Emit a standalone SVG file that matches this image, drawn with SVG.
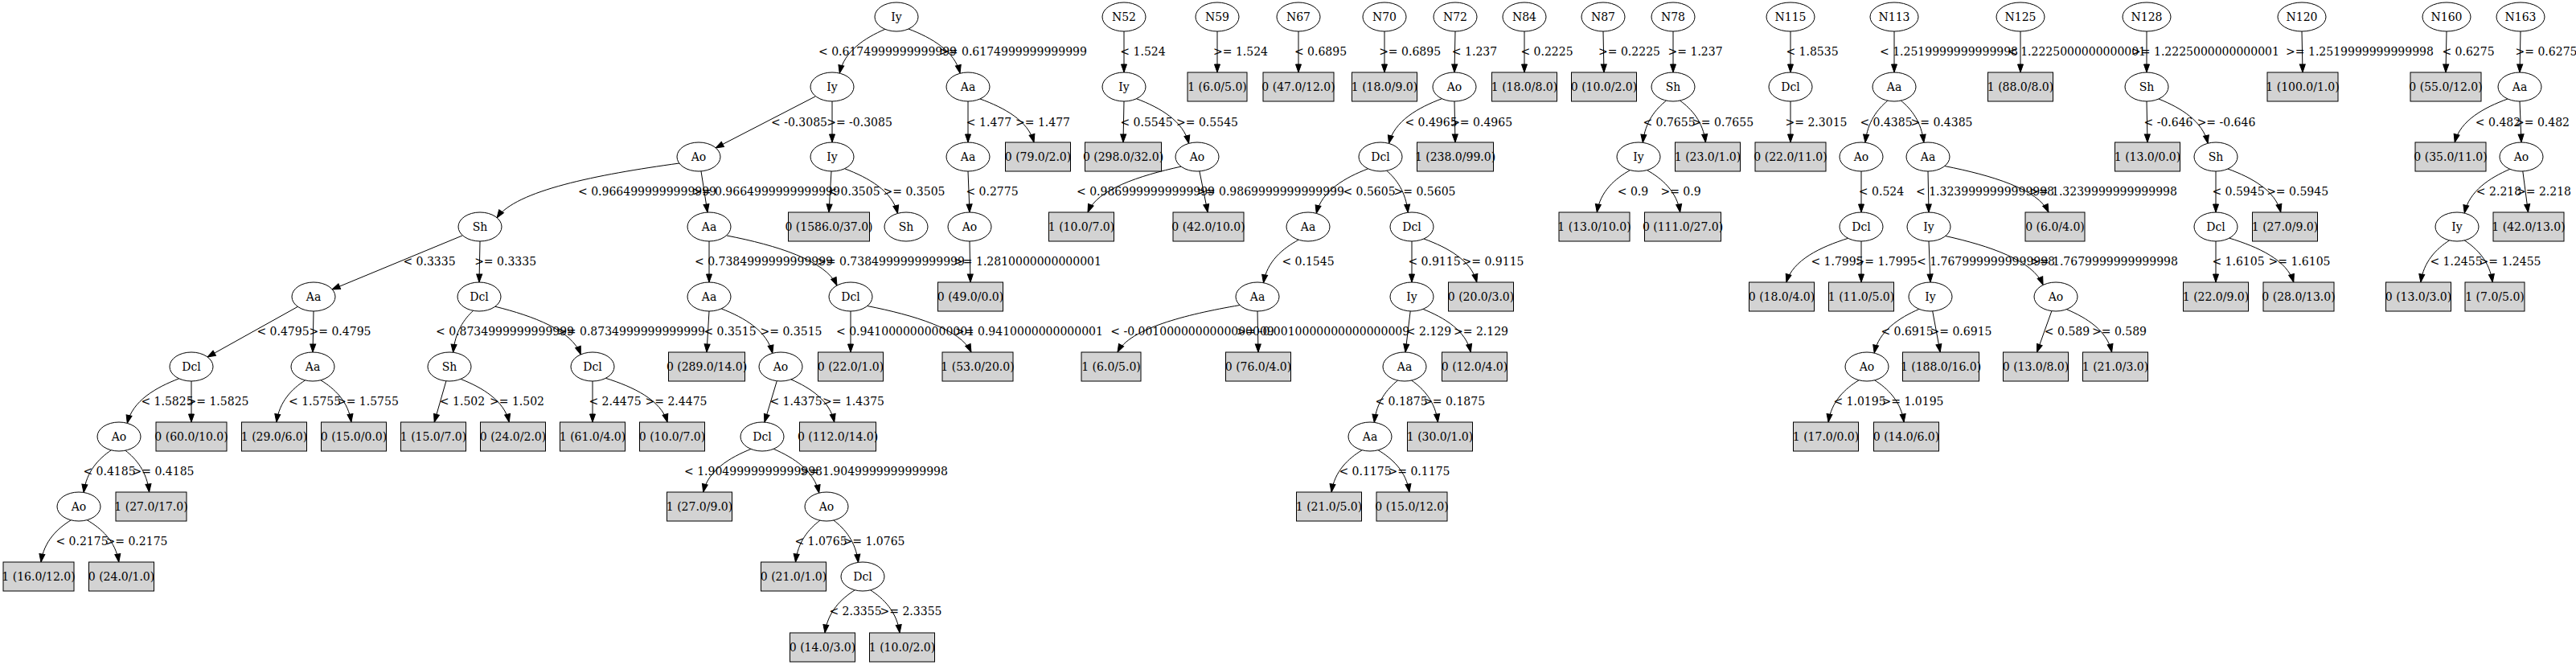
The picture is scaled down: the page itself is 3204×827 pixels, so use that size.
<svg xmlns="http://www.w3.org/2000/svg" width="3204" height="827" viewBox="0 0 3204 827">
<defs>
<style>
text{font-family:"DejaVu Serif","Liberation Serif",serif;font-size:14px;text-anchor:middle;fill:#000}
ellipse{fill:#fff;stroke:#000;stroke-width:1}
rect.leaf{fill:#d3d3d3;stroke:#000;stroke-width:1}
#edges path{fill:none;stroke:#000;stroke-width:1;marker-end:url(#arr)}
</style>
<marker id="arr" markerUnits="userSpaceOnUse" markerWidth="12" markerHeight="9" refX="10" refY="3.5" orient="auto" overflow="visible"><path d="M0,0 L10,3.5 L0,7 Z" fill="#000" stroke="#000" stroke-width="1"/></marker>
</defs>
<rect width="3204" height="827" fill="#fff"/>
<g id="edges">
<path d="M1100.9,36.3 C1075.4,47.3 1050,63.7 1044.3,91.1"/>
<path d="M1130,36 C1159,47 1188,64 1194,91"/>
<path d="M1014,120 L890,184"/>
<path d="M1035,126 L1035,177"/>
<path d="M1204,126 L1204,177"/>
<path d="M1219,123 C1249,134 1279,150 1286,177"/>
<path d="M845,203 C743,217 641,237 618,271"/>
<path d="M872,213 L880,264"/>
<path d="M1034,213 L1031,264"/>
<path d="M1050.5,209.7 C1080,221 1110,237.5 1116.5,265.4"/>
<path d="M1204,213 L1206,264"/>
<path d="M575,293 L413,360"/>
<path d="M597,300 L596,351"/>
<path d="M882,300 L882,351"/>
<path d="M904,293 C966,305 1027,324 1041,355"/>
<path d="M1206,300 L1207,351"/>
<path d="M371,381 L258,444"/>
<path d="M390,387 L389,438"/>
<path d="M588.6,386.3 C577.4,396.7 566.1,412.3 563.6,438.3"/>
<path d="M615.8,381.2 C663.7,393.1 711.6,411 722.3,440.9"/>
<path d="M882,387 L879,438"/>
<path d="M897.2,383.9 C925.8,395 954.4,411.6 960.8,439.4"/>
<path d="M1058,387 L1058,438"/>
<path d="M1078.8,380.5 C1136.9,392 1195.1,409.3 1208,438"/>
<path d="M222.7,470.8 C193.7,481.9 164.7,498.6 158.3,526.4"/>
<path d="M238,474 L238,525"/>
<path d="M379.6,472.9 C363.5,483.3 347.5,499 343.9,525"/>
<path d="M398.9,472.8 C416,483.2 433.1,498.9 436.9,525"/>
<path d="M554.9,473.8 L540.2,525"/>
<path d="M573,471.4 C600.1,482.1 627.3,498.2 633.3,525"/>
<path d="M737,474 L737,525"/>
<path d="M753.3,470.3 C787.9,481.2 822.4,497.6 830.1,525"/>
<path d="M966.3,473.7 L950.9,525.1"/>
<path d="M983.9,471.9 C1008.1,482.5 1032.3,498.4 1037.7,525"/>
<path d="M138.3,559.8 C122.9,570.3 107.5,586.1 104.1,612.5"/>
<path d="M155.9,560.2 C169.3,570.6 182.6,586.1 185.6,612"/>
<path d="M88.3,646.8 C71.5,657.2 54.7,672.9 51,699"/>
<path d="M108.2,646.7 C126,657.2 143.8,672.8 147.8,699"/>
<path d="M934.1,558.4 C907.4,569.1 880.6,585.2 874.7,612"/>
<path d="M962.1,558.3 C987.6,569.3 1013,585.7 1018.7,613.1"/>
<path d="M1019.9,647.2 C1006.2,657.6 992.5,673.1 989.5,699"/>
<path d="M1036.8,647 C1050.6,657.5 1064.4,673.2 1067.5,699.4"/>
<path d="M1063.3,733.8 C1046.5,744.4 1029.7,760.4 1026,787"/>
<path d="M1082.6,733.8 C1099,744.4 1115.4,760.4 1119.1,787"/>
<path d="M1398,39 L1398,90"/>
<path d="M1398,126 L1397,177"/>
<path d="M1413.4,122.7 C1442.7,133.8 1472.1,150.5 1478.6,178.4"/>
<path d="M1469,207.1 C1416.8,218.5 1364.6,235.5 1353,264"/>
<path d="M1491.9,212.9 L1502.2,264"/>
<path d="M1514,39 L1514,90"/>
<path d="M1615,39 L1615,90"/>
<path d="M1722,39 L1722,90"/>
<path d="M1810,39 L1809,90"/>
<path d="M1793.5,122.7 C1763.8,133.8 1734.1,150.5 1727.5,178.4"/>
<path d="M1809,126 L1810,177"/>
<path d="M1701.7,209.8 C1672.7,220.9 1643.7,237.6 1637.3,265.4"/>
<path d="M1724.7,212.2 C1736.6,222.6 1748.6,238.3 1751.2,264.3"/>
<path d="M1615.3,298.2 C1595.6,308.9 1575.9,325 1571.5,351.7"/>
<path d="M1756,300 L1756,351"/>
<path d="M1770.9,297 C1800.6,307.8 1830.2,324 1836.8,351"/>
<path d="M1542.1,379.5 C1473.7,391.2 1405.2,408.8 1390,438"/>
<path d="M1564,387 L1565,438"/>
<path d="M1754.2,386.9 L1748,438"/>
<path d="M1769.9,384.4 C1796.6,395.1 1823.4,411.2 1829.3,438"/>
<path d="M1738.5,473.1 C1725.4,483.6 1712.2,499.2 1709.3,525.4"/>
<path d="M1755.6,473 C1770.4,483.4 1785.1,499 1788.4,525"/>
<path d="M1694.1,559.8 C1677,570.2 1659.9,585.9 1656.1,612"/>
<path d="M1714,559.7 C1731.5,570.2 1749,585.8 1752.9,612"/>
<path d="M1896,39 L1896,90"/>
<path d="M1994,39 L1995,90"/>
<path d="M2081,39 L2081,90"/>
<path d="M2072.5,125.1 C2059.4,135.6 2046.2,151.2 2043.3,177.4"/>
<path d="M2089.5,125.1 C2103.9,135.5 2118.2,151 2121.4,177"/>
<path d="M2027.5,211.6 C2009,222.1 1990.4,237.8 1986.3,264"/>
<path d="M2048.5,211.6 C2067,222.1 2085.6,237.8 2089.7,264"/>
<path d="M2227,39 L2227,90"/>
<path d="M2227,126 L2227,177"/>
<path d="M2356,39 L2356,90"/>
<path d="M2347.9,125.2 C2335.3,135.6 2322.8,151.3 2320,177.3"/>
<path d="M2364.3,125.1 C2377.1,135.5 2389.9,151.2 2392.8,177.3"/>
<path d="M2315,213 L2315,264"/>
<path d="M2398,213 L2399,264"/>
<path d="M2418.8,206.5 C2476.9,218 2535.1,235.3 2548,264"/>
<path d="M2298.7,296.3 C2264.1,307.2 2229.6,323.6 2221.9,351"/>
<path d="M2315,300 L2315,351"/>
<path d="M2399,300 L2401,351"/>
<path d="M2419.8,293.5 C2474.4,305.7 2529,323.9 2541.1,354.4"/>
<path d="M2387,384.4 C2361.9,395.3 2336.8,411.7 2331.2,439.1"/>
<path d="M2403.7,386.9 L2413.2,438"/>
<path d="M2551.9,386.7 L2533.5,438"/>
<path d="M2570.4,384.7 C2595.7,395.4 2621,411.3 2626.6,438"/>
<path d="M2312.1,472.8 C2295,483.2 2277.9,498.9 2274.1,525"/>
<path d="M2331.6,472.8 C2348,483.2 2364.4,498.9 2368.1,525"/>
<path d="M2513,39 L2513,90"/>
<path d="M2670,39 L2670,90"/>
<path d="M2670,126 L2671,177"/>
<path d="M2684.9,123 C2712.4,134.1 2740,150.6 2746.1,178.3"/>
<path d="M2756,213 L2756,264"/>
<path d="M2770.9,210 C2800.6,220.8 2830.2,237 2836.8,264"/>
<path d="M2756,300 L2756,351"/>
<path d="M2772.7,296.1 C2808.7,307.1 2844.8,323.5 2852.8,351"/>
<path d="M2863,39 L2864,90"/>
<path d="M3043,39 L3042,90"/>
<path d="M3135,39 L3134,90"/>
<path d="M3119.1,123 C3089.4,133.8 3059.8,150 3053.2,177"/>
<path d="M3134,126 L3136,177"/>
<path d="M3121.9,210.3 C3096.4,221.3 3071,237.7 3065.3,265.1"/>
<path d="M3137.8,212.9 L3144.5,264"/>
<path d="M3046.6,298.9 C3030.5,309.3 3014.5,325 3010.9,351"/>
<path d="M3065.2,298.9 C3081,309.3 3096.7,325 3100.2,351"/>
<g id="edge-labels">
<text x="1104" y="69">&lt; 0.6174999999999999</text>
<text x="1260" y="69">&gt;= 0.6174999999999999</text>
<text x="1421.5" y="69">&lt; 1.524</text>
<text x="1543" y="69">&gt;= 1.524</text>
<text x="1642.5" y="69">&lt; 0.6895</text>
<text x="1753.6" y="69">&gt;= 0.6895</text>
<text x="1834" y="69">&lt; 1.237</text>
<text x="1924" y="69">&lt; 0.2225</text>
<text x="2026.5" y="69">&gt;= 0.2225</text>
<text x="2108.6" y="69">&gt;= 1.237</text>
<text x="2254" y="69">&lt; 1.8535</text>
<text x="2424" y="69">&lt; 1.2519999999999998</text>
<text x="2583" y="69">&lt; 1.2225000000000001</text>
<text x="2743" y="69">&gt;= 1.2225000000000001</text>
<text x="2935" y="69">&gt;= 1.2519999999999998</text>
<text x="3070" y="69">&lt; 0.6275</text>
<text x="3167" y="69">&gt;= 0.6275</text>
<text x="994" y="157">&lt; -0.3085</text>
<text x="1069" y="157">&gt;= -0.3085</text>
<text x="1230" y="157">&lt; 1.477</text>
<text x="1297" y="157">&gt;= 1.477</text>
<text x="1426" y="157">&lt; 0.5545</text>
<text x="1501.5" y="157">&gt;= 0.5545</text>
<text x="1780" y="157">&lt; 0.4965</text>
<text x="1842.6" y="157">&gt;= 0.4965</text>
<text x="2076" y="157">&lt; 0.7655</text>
<text x="2142.6" y="157">&gt;= 0.7655</text>
<text x="2259" y="157">&gt;= 2.3015</text>
<text x="2346" y="157">&lt; 0.4385</text>
<text x="2415" y="157">&gt;= 0.4385</text>
<text x="2697" y="157">&lt; -0.646</text>
<text x="2769" y="157">&gt;= -0.646</text>
<text x="3107" y="157">&lt; 0.482</text>
<text x="3162" y="157">&gt;= 0.482</text>
<text x="805" y="243">&lt; 0.9664999999999999</text>
<text x="953" y="243">&gt;= 0.9664999999999999</text>
<text x="1062" y="243">&lt; 0.3505</text>
<text x="1137" y="243">&gt;= 0.3505</text>
<text x="1234" y="243">&lt; 0.2775</text>
<text x="1425" y="243">&lt; 0.9869999999999999</text>
<text x="1580" y="243">&gt;= 0.9869999999999999</text>
<text x="1703" y="243">&lt; 0.5605</text>
<text x="1772" y="243">&gt;= 0.5605</text>
<text x="2031" y="243">&lt; 0.9</text>
<text x="2090.5" y="243">&gt;= 0.9</text>
<text x="2340" y="243">&lt; 0.524</text>
<text x="2469" y="243">&lt; 1.3239999999999998</text>
<text x="2616" y="243">&gt;= 1.3239999999999998</text>
<text x="2784" y="243">&lt; 0.5945</text>
<text x="2857.6" y="243">&gt;= 0.5945</text>
<text x="3108" y="243">&lt; 2.218</text>
<text x="3164" y="243">&gt;= 2.218</text>
<text x="534" y="330">&lt; 0.3335</text>
<text x="628.6" y="330">&gt;= 0.3335</text>
<text x="950" y="330">&lt; 0.7384999999999999</text>
<text x="1108" y="330">&gt;= 0.7384999999999999</text>
<text x="1278" y="330">&gt;= 1.2810000000000001</text>
<text x="1627" y="330">&lt; 0.1545</text>
<text x="1784" y="330">&lt; 0.9115</text>
<text x="1857" y="330">&gt;= 0.9115</text>
<text x="2285" y="330">&lt; 1.7995</text>
<text x="2346" y="330">&gt;= 1.7995</text>
<text x="2470" y="330">&lt; 1.7679999999999998</text>
<text x="2617" y="330">&gt;= 1.7679999999999998</text>
<text x="2784" y="330">&lt; 1.6105</text>
<text x="2860" y="330">&gt;= 1.6105</text>
<text x="3055" y="330">&lt; 1.2455</text>
<text x="3122" y="330">&gt;= 1.2455</text>
<text x="352" y="417">&lt; 0.4795</text>
<text x="423" y="417">&gt;= 0.4795</text>
<text x="628" y="417">&lt; 0.8734999999999999</text>
<text x="785" y="417">&gt;= 0.8734999999999999</text>
<text x="908" y="417">&lt; 0.3515</text>
<text x="984" y="417">&gt;= 0.3515</text>
<text x="1126" y="417">&lt; 0.9410000000000001</text>
<text x="1280" y="417">&gt;= 0.9410000000000001</text>
<text x="1483" y="417">&lt; -0.0010000000000000009</text>
<text x="1645.5" y="417">&gt;= -0.0010000000000000009</text>
<text x="1777" y="417">&lt; 2.129</text>
<text x="1842" y="417">&gt;= 2.129</text>
<text x="2372" y="417">&lt; 0.6915</text>
<text x="2439" y="417">&gt;= 0.6915</text>
<text x="2571" y="417">&lt; 0.589</text>
<text x="2636" y="417">&gt;= 0.589</text>
<text x="208" y="504">&lt; 1.5825</text>
<text x="271" y="504">&gt;= 1.5825</text>
<text x="391.6" y="504">&lt; 1.5755</text>
<text x="457.4" y="504">&gt;= 1.5755</text>
<text x="575" y="504">&lt; 1.502</text>
<text x="643" y="504">&gt;= 1.502</text>
<text x="765" y="504">&lt; 2.4475</text>
<text x="841" y="504">&gt;= 2.4475</text>
<text x="990" y="504">&lt; 1.4375</text>
<text x="1061.5" y="504">&gt;= 1.4375</text>
<text x="1743" y="504">&lt; 0.1875</text>
<text x="1808.6" y="504">&gt;= 0.1875</text>
<text x="2313" y="504">&lt; 1.0195</text>
<text x="2379" y="504">&gt;= 1.0195</text>
<text x="136" y="591">&lt; 0.4185</text>
<text x="203" y="591">&gt;= 0.4185</text>
<text x="937" y="591">&lt; 1.9049999999999998</text>
<text x="1087" y="591">&gt;= 1.9049999999999998</text>
<text x="1698" y="591">&lt; 0.1175</text>
<text x="1765" y="591">&gt;= 0.1175</text>
<text x="102" y="678">&lt; 0.2175</text>
<text x="170" y="678">&gt;= 0.2175</text>
<text x="1021" y="678">&lt; 1.0765</text>
<text x="1087" y="678">&gt;= 1.0765</text>
<text x="1064" y="765">&lt; 2.3355</text>
<text x="1133" y="765">&gt;= 2.3355</text>
</g>
</g>
<g id="m1"><ellipse cx="1115" cy="21" rx="27" ry="18"/><text x="1115" y="26">Iy</text></g>
<g id="m2"><ellipse cx="1035" cy="108" rx="27" ry="18"/><text x="1035" y="113">Iy</text></g>
<g id="m3"><ellipse cx="1204" cy="108" rx="27" ry="18"/><text x="1204" y="113">Aa</text></g>
<g id="m4"><ellipse cx="869" cy="195" rx="27" ry="18"/><text x="869" y="200">Ao</text></g>
<g id="m5"><ellipse cx="1035" cy="195" rx="27" ry="18"/><text x="1035" y="200">Iy</text></g>
<g id="m6"><ellipse cx="1204" cy="195" rx="27" ry="18"/><text x="1204" y="200">Aa</text></g>
<g id="m7"><ellipse cx="597" cy="282" rx="27" ry="18"/><text x="597" y="287">Sh</text></g>
<g id="m8"><ellipse cx="882" cy="282" rx="27" ry="18"/><text x="882" y="287">Aa</text></g>
<g id="m9"><ellipse cx="1127" cy="282" rx="27" ry="18"/><text x="1127" y="287">Sh</text></g>
<g id="m10"><ellipse cx="1206" cy="282" rx="27" ry="18"/><text x="1206" y="287">Ao</text></g>
<g id="m11"><ellipse cx="390" cy="369" rx="27" ry="18"/><text x="390" y="374">Aa</text></g>
<g id="m12"><ellipse cx="596" cy="369" rx="27" ry="18"/><text x="596" y="374">Dcl</text></g>
<g id="m13"><ellipse cx="882" cy="369" rx="27" ry="18"/><text x="882" y="374">Aa</text></g>
<g id="m14"><ellipse cx="1058" cy="369" rx="27" ry="18"/><text x="1058" y="374">Dcl</text></g>
<g id="m15"><ellipse cx="238" cy="456" rx="27" ry="18"/><text x="238" y="461">Dcl</text></g>
<g id="m16"><ellipse cx="389" cy="456" rx="27" ry="18"/><text x="389" y="461">Aa</text></g>
<g id="m17"><ellipse cx="559" cy="456" rx="27" ry="18"/><text x="559" y="461">Sh</text></g>
<g id="m18"><ellipse cx="737" cy="456" rx="27" ry="18"/><text x="737" y="461">Dcl</text></g>
<g id="m19"><ellipse cx="971" cy="456" rx="27" ry="18"/><text x="971" y="461">Ao</text></g>
<g id="m20"><ellipse cx="148" cy="543" rx="27" ry="18"/><text x="148" y="548">Ao</text></g>
<g id="m21"><ellipse cx="948" cy="543" rx="27" ry="18"/><text x="948" y="548">Dcl</text></g>
<g id="m22"><ellipse cx="98" cy="630" rx="27" ry="18"/><text x="98" y="635">Ao</text></g>
<g id="m23"><ellipse cx="1028" cy="630" rx="27" ry="18"/><text x="1028" y="635">Ao</text></g>
<g id="m24"><ellipse cx="1073" cy="717" rx="27" ry="18"/><text x="1073" y="722">Dcl</text></g>
<g id="N52"><ellipse cx="1398" cy="21" rx="27" ry="18"/><text x="1398" y="26">N52</text></g>
<g id="a1"><ellipse cx="1398" cy="108" rx="27" ry="18"/><text x="1398" y="113">Iy</text></g>
<g id="a2"><ellipse cx="1489" cy="195" rx="27" ry="18"/><text x="1489" y="200">Ao</text></g>
<g id="N59"><ellipse cx="1514" cy="21" rx="27" ry="18"/><text x="1514" y="26">N59</text></g>
<g id="N67"><ellipse cx="1615" cy="21" rx="27" ry="18"/><text x="1615" y="26">N67</text></g>
<g id="N70"><ellipse cx="1722" cy="21" rx="27" ry="18"/><text x="1722" y="26">N70</text></g>
<g id="N72"><ellipse cx="1810" cy="21" rx="27" ry="18"/><text x="1810" y="26">N72</text></g>
<g id="b1"><ellipse cx="1809" cy="108" rx="27" ry="18"/><text x="1809" y="113">Ao</text></g>
<g id="b2"><ellipse cx="1717" cy="195" rx="27" ry="18"/><text x="1717" y="200">Dcl</text></g>
<g id="b3"><ellipse cx="1627" cy="282" rx="27" ry="18"/><text x="1627" y="287">Aa</text></g>
<g id="b4"><ellipse cx="1756" cy="282" rx="27" ry="18"/><text x="1756" y="287">Dcl</text></g>
<g id="b5"><ellipse cx="1564" cy="369" rx="27" ry="18"/><text x="1564" y="374">Aa</text></g>
<g id="b6"><ellipse cx="1756" cy="369" rx="27" ry="18"/><text x="1756" y="374">Iy</text></g>
<g id="b7"><ellipse cx="1747" cy="456" rx="27" ry="18"/><text x="1747" y="461">Aa</text></g>
<g id="b8"><ellipse cx="1704" cy="543" rx="27" ry="18"/><text x="1704" y="548">Aa</text></g>
<g id="N84"><ellipse cx="1896" cy="21" rx="27" ry="18"/><text x="1896" y="26">N84</text></g>
<g id="N87"><ellipse cx="1994" cy="21" rx="27" ry="18"/><text x="1994" y="26">N87</text></g>
<g id="N78"><ellipse cx="2081" cy="21" rx="27" ry="18"/><text x="2081" y="26">N78</text></g>
<g id="c1"><ellipse cx="2081" cy="108" rx="27" ry="18"/><text x="2081" y="113">Sh</text></g>
<g id="c2"><ellipse cx="2038" cy="195" rx="27" ry="18"/><text x="2038" y="200">Iy</text></g>
<g id="N115"><ellipse cx="2227" cy="21" rx="30" ry="18"/><text x="2227" y="26">N115</text></g>
<g id="d1"><ellipse cx="2227" cy="108" rx="27" ry="18"/><text x="2227" y="113">Dcl</text></g>
<g id="N113"><ellipse cx="2356" cy="21" rx="30" ry="18"/><text x="2356" y="26">N113</text></g>
<g id="e1"><ellipse cx="2356" cy="108" rx="27" ry="18"/><text x="2356" y="113">Aa</text></g>
<g id="e2"><ellipse cx="2315" cy="195" rx="27" ry="18"/><text x="2315" y="200">Ao</text></g>
<g id="e3"><ellipse cx="2398" cy="195" rx="27" ry="18"/><text x="2398" y="200">Aa</text></g>
<g id="e4"><ellipse cx="2315" cy="282" rx="27" ry="18"/><text x="2315" y="287">Dcl</text></g>
<g id="e5"><ellipse cx="2399" cy="282" rx="27" ry="18"/><text x="2399" y="287">Iy</text></g>
<g id="e6"><ellipse cx="2401" cy="369" rx="27" ry="18"/><text x="2401" y="374">Iy</text></g>
<g id="e7"><ellipse cx="2557" cy="369" rx="27" ry="18"/><text x="2557" y="374">Ao</text></g>
<g id="e8"><ellipse cx="2322" cy="456" rx="27" ry="18"/><text x="2322" y="461">Ao</text></g>
<g id="N125"><ellipse cx="2513" cy="21" rx="30" ry="18"/><text x="2513" y="26">N125</text></g>
<g id="N128"><ellipse cx="2670" cy="21" rx="30" ry="18"/><text x="2670" y="26">N128</text></g>
<g id="f1"><ellipse cx="2670" cy="108" rx="27" ry="18"/><text x="2670" y="113">Sh</text></g>
<g id="f2"><ellipse cx="2756" cy="195" rx="27" ry="18"/><text x="2756" y="200">Sh</text></g>
<g id="f3"><ellipse cx="2756" cy="282" rx="27" ry="18"/><text x="2756" y="287">Dcl</text></g>
<g id="N120"><ellipse cx="2863" cy="21" rx="30" ry="18"/><text x="2863" y="26">N120</text></g>
<g id="N160"><ellipse cx="3043" cy="21" rx="30" ry="18"/><text x="3043" y="26">N160</text></g>
<g id="N163"><ellipse cx="3135" cy="21" rx="30" ry="18"/><text x="3135" y="26">N163</text></g>
<g id="g1"><ellipse cx="3134" cy="108" rx="27" ry="18"/><text x="3134" y="113">Aa</text></g>
<g id="g2"><ellipse cx="3136" cy="195" rx="27" ry="18"/><text x="3136" y="200">Ao</text></g>
<g id="g3"><ellipse cx="3056" cy="282" rx="27" ry="18"/><text x="3056" y="287">Iy</text></g>
<g id="L1"><rect class="leaf" x="1250.5" y="177" width="81" height="36"/><text x="1291" y="200">0 (79.0/2.0)</text></g>
<g id="L2"><rect class="leaf" x="980.5" y="264" width="101" height="36"/><text x="1031" y="287">0 (1586.0/37.0)</text></g>
<g id="L3"><rect class="leaf" x="1166.5" y="351" width="81" height="36"/><text x="1207" y="374">0 (49.0/0.0)</text></g>
<g id="L4"><rect class="leaf" x="831.5" y="438" width="95" height="36"/><text x="879" y="461">0 (289.0/14.0)</text></g>
<g id="L5"><rect class="leaf" x="1017.5" y="438" width="81" height="36"/><text x="1058" y="461">0 (22.0/1.0)</text></g>
<g id="L6"><rect class="leaf" x="1172" y="438" width="88" height="36"/><text x="1216" y="461">1 (53.0/20.0)</text></g>
<g id="L7"><rect class="leaf" x="194" y="525" width="88" height="36"/><text x="238" y="548">0 (60.0/10.0)</text></g>
<g id="L8"><rect class="leaf" x="300.5" y="525" width="81" height="36"/><text x="341" y="548">1 (29.0/6.0)</text></g>
<g id="L9"><rect class="leaf" x="399.5" y="525" width="81" height="36"/><text x="440" y="548">0 (15.0/0.0)</text></g>
<g id="L10"><rect class="leaf" x="498.5" y="525" width="81" height="36"/><text x="539" y="548">1 (15.0/7.0)</text></g>
<g id="L11"><rect class="leaf" x="597.5" y="525" width="81" height="36"/><text x="638" y="548">0 (24.0/2.0)</text></g>
<g id="L12"><rect class="leaf" x="696.5" y="525" width="81" height="36"/><text x="737" y="548">1 (61.0/4.0)</text></g>
<g id="L13"><rect class="leaf" x="795.5" y="525" width="81" height="36"/><text x="836" y="548">0 (10.0/7.0)</text></g>
<g id="L14"><rect class="leaf" x="994.5" y="525" width="95" height="36"/><text x="1042" y="548">0 (112.0/14.0)</text></g>
<g id="L15"><rect class="leaf" x="144" y="612" width="88" height="36"/><text x="188" y="635">1 (27.0/17.0)</text></g>
<g id="L16"><rect class="leaf" x="829.5" y="612" width="81" height="36"/><text x="870" y="635">1 (27.0/9.0)</text></g>
<g id="L17"><rect class="leaf" x="4" y="699" width="88" height="36"/><text x="48" y="722">1 (16.0/12.0)</text></g>
<g id="L18"><rect class="leaf" x="110.5" y="699" width="81" height="36"/><text x="151" y="722">0 (24.0/1.0)</text></g>
<g id="L19"><rect class="leaf" x="946.5" y="699" width="81" height="36"/><text x="987" y="722">0 (21.0/1.0)</text></g>
<g id="L20"><rect class="leaf" x="982.5" y="787" width="81" height="36"/><text x="1023" y="810">0 (14.0/3.0)</text></g>
<g id="L21"><rect class="leaf" x="1081.5" y="787" width="81" height="36"/><text x="1122" y="810">1 (10.0/2.0)</text></g>
<g id="L22"><rect class="leaf" x="1349.5" y="177" width="95" height="36"/><text x="1397" y="200">0 (298.0/32.0)</text></g>
<g id="L23"><rect class="leaf" x="1304.5" y="264" width="81" height="36"/><text x="1345" y="287">1 (10.0/7.0)</text></g>
<g id="L24"><rect class="leaf" x="1459" y="264" width="88" height="36"/><text x="1503" y="287">0 (42.0/10.0)</text></g>
<g id="L25"><rect class="leaf" x="1477" y="90" width="74" height="36"/><text x="1514" y="113">1 (6.0/5.0)</text></g>
<g id="L26"><rect class="leaf" x="1571" y="90" width="88" height="36"/><text x="1615" y="113">0 (47.0/12.0)</text></g>
<g id="L27"><rect class="leaf" x="1681.5" y="90" width="81" height="36"/><text x="1722" y="113">1 (18.0/9.0)</text></g>
<g id="L28"><rect class="leaf" x="1762.5" y="177" width="95" height="36"/><text x="1810" y="200">1 (238.0/99.0)</text></g>
<g id="L29"><rect class="leaf" x="1801.5" y="351" width="81" height="36"/><text x="1842" y="374">0 (20.0/3.0)</text></g>
<g id="L30"><rect class="leaf" x="1345" y="438" width="74" height="36"/><text x="1382" y="461">1 (6.0/5.0)</text></g>
<g id="L31"><rect class="leaf" x="1524.5" y="438" width="81" height="36"/><text x="1565" y="461">0 (76.0/4.0)</text></g>
<g id="L32"><rect class="leaf" x="1793.5" y="438" width="81" height="36"/><text x="1834" y="461">0 (12.0/4.0)</text></g>
<g id="L33"><rect class="leaf" x="1750.5" y="525" width="81" height="36"/><text x="1791" y="548">1 (30.0/1.0)</text></g>
<g id="L34"><rect class="leaf" x="1612.5" y="612" width="81" height="36"/><text x="1653" y="635">1 (21.0/5.0)</text></g>
<g id="L35"><rect class="leaf" x="1712" y="612" width="88" height="36"/><text x="1756" y="635">0 (15.0/12.0)</text></g>
<g id="L36"><rect class="leaf" x="1855.5" y="90" width="81" height="36"/><text x="1896" y="113">1 (18.0/8.0)</text></g>
<g id="L37"><rect class="leaf" x="1954.5" y="90" width="81" height="36"/><text x="1995" y="113">0 (10.0/2.0)</text></g>
<g id="L38"><rect class="leaf" x="2083.5" y="177" width="81" height="36"/><text x="2124" y="200">1 (23.0/1.0)</text></g>
<g id="L39"><rect class="leaf" x="1939" y="264" width="88" height="36"/><text x="1983" y="287">1 (13.0/10.0)</text></g>
<g id="L40"><rect class="leaf" x="2045.5" y="264" width="95" height="36"/><text x="2093" y="287">0 (111.0/27.0)</text></g>
<g id="L41"><rect class="leaf" x="2183" y="177" width="88" height="36"/><text x="2227" y="200">0 (22.0/11.0)</text></g>
<g id="L42"><rect class="leaf" x="2519" y="264" width="74" height="36"/><text x="2556" y="287">0 (6.0/4.0)</text></g>
<g id="L43"><rect class="leaf" x="2175.5" y="351" width="81" height="36"/><text x="2216" y="374">0 (18.0/4.0)</text></g>
<g id="L44"><rect class="leaf" x="2274.5" y="351" width="81" height="36"/><text x="2315" y="374">1 (11.0/5.0)</text></g>
<g id="L45"><rect class="leaf" x="2366.5" y="438" width="95" height="36"/><text x="2414" y="461">1 (188.0/16.0)</text></g>
<g id="L46"><rect class="leaf" x="2491.5" y="438" width="81" height="36"/><text x="2532" y="461">0 (13.0/8.0)</text></g>
<g id="L47"><rect class="leaf" x="2590.5" y="438" width="81" height="36"/><text x="2631" y="461">1 (21.0/3.0)</text></g>
<g id="L48"><rect class="leaf" x="2230.5" y="525" width="81" height="36"/><text x="2271" y="548">1 (17.0/0.0)</text></g>
<g id="L49"><rect class="leaf" x="2330.5" y="525" width="81" height="36"/><text x="2371" y="548">0 (14.0/6.0)</text></g>
<g id="L50"><rect class="leaf" x="2472.5" y="90" width="81" height="36"/><text x="2513" y="113">1 (88.0/8.0)</text></g>
<g id="L51"><rect class="leaf" x="2630.5" y="177" width="81" height="36"/><text x="2671" y="200">1 (13.0/0.0)</text></g>
<g id="L52"><rect class="leaf" x="2801.5" y="264" width="81" height="36"/><text x="2842" y="287">1 (27.0/9.0)</text></g>
<g id="L53"><rect class="leaf" x="2715.5" y="351" width="81" height="36"/><text x="2756" y="374">1 (22.0/9.0)</text></g>
<g id="L54"><rect class="leaf" x="2815" y="351" width="88" height="36"/><text x="2859" y="374">0 (28.0/13.0)</text></g>
<g id="L55"><rect class="leaf" x="2820" y="90" width="88" height="36"/><text x="2864" y="113">1 (100.0/1.0)</text></g>
<g id="L56"><rect class="leaf" x="2998" y="90" width="88" height="36"/><text x="3042" y="113">0 (55.0/12.0)</text></g>
<g id="L57"><rect class="leaf" x="3004" y="177" width="88" height="36"/><text x="3048" y="200">0 (35.0/11.0)</text></g>
<g id="L58"><rect class="leaf" x="3101" y="264" width="88" height="36"/><text x="3145" y="287">1 (42.0/13.0)</text></g>
<g id="L59"><rect class="leaf" x="2967.5" y="351" width="81" height="36"/><text x="3008" y="374">0 (13.0/3.0)</text></g>
<g id="L60"><rect class="leaf" x="3066" y="351" width="74" height="36"/><text x="3103" y="374">1 (7.0/5.0)</text></g>
</svg>
